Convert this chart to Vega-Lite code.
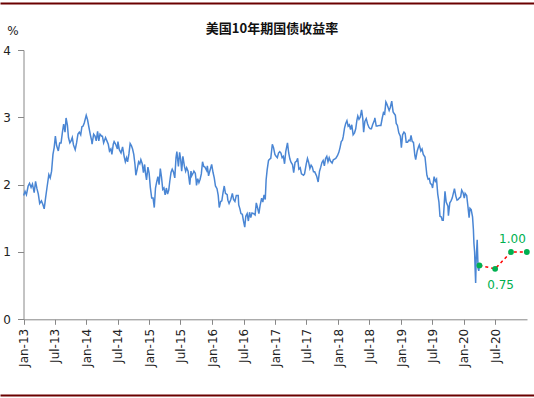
{
  "$schema": "https://vega.github.io/schema/vega-lite/v6.json",
  "autosize": "none",
  "width": 534,
  "height": 392,
  "padding": {"left": 0, "right": 0, "top": 3, "bottom": 3},
  "background": "white",
  "config": {
    "view": {"stroke": null},
    "axis": {"labelFont": "DejaVu Sans", "labelFontSize": 12, "labelColor": "#222", "domainColor": "#888", "tickColor": "#888", "grid": false}
  },
  "title": {"text": "美国10年期国债收益率", "font": "Noto Sans CJK SC", "fontSize": 13, "fontWeight": "bold", "color": "#111", "anchor": "middle", "offset": -39, "baseline": "middle", "dx": 5},
  "datasets": {
    "hist": [
      {"d":"2013-01-02","v":1.84},{"d":"2013-01-10","v":1.90},{"d":"2013-01-18","v":1.85},{"d":"2013-01-28","v":1.98},
      {"d":"2013-02-05","v":2.02},{"d":"2013-02-14","v":1.96},{"d":"2013-02-22","v":2.01},
      {"d":"2013-03-04","v":1.88},{"d":"2013-03-12","v":2.05},{"d":"2013-03-20","v":1.94},{"d":"2013-03-28","v":1.86},
      {"d":"2013-04-05","v":1.72},{"d":"2013-04-15","v":1.76},{"d":"2013-04-24","v":1.70},
      {"d":"2013-05-01","v":1.64},{"d":"2013-05-09","v":1.80},{"d":"2013-05-17","v":1.95},{"d":"2013-05-28","v":2.15},
      {"d":"2013-06-05","v":2.10},{"d":"2013-06-13","v":2.20},{"d":"2013-06-21","v":2.45},{"d":"2013-06-28","v":2.55},
      {"d":"2013-07-05","v":2.72},{"d":"2013-07-12","v":2.58},{"d":"2013-07-22","v":2.50},{"d":"2013-07-30","v":2.62},
      {"d":"2013-08-07","v":2.62},{"d":"2013-08-15","v":2.78},{"d":"2013-08-22","v":2.90},{"d":"2013-08-30","v":2.78},
      {"d":"2013-09-05","v":2.99},{"d":"2013-09-13","v":2.88},{"d":"2013-09-19","v":2.70},{"d":"2013-09-27","v":2.62},
      {"d":"2013-10-04","v":2.65},{"d":"2013-10-11","v":2.70},{"d":"2013-10-18","v":2.59},{"d":"2013-10-28","v":2.52},
      {"d":"2013-11-05","v":2.62},{"d":"2013-11-13","v":2.75},{"d":"2013-11-21","v":2.78},{"d":"2013-11-29","v":2.74},
      {"d":"2013-12-06","v":2.86},{"d":"2013-12-13","v":2.87},{"d":"2013-12-20","v":2.92},{"d":"2013-12-31","v":3.03},
      {"d":"2014-01-08","v":2.96},{"d":"2014-01-15","v":2.86},{"d":"2014-01-24","v":2.74},{"d":"2014-01-31","v":2.66},
      {"d":"2014-02-03","v":2.60},{"d":"2014-02-12","v":2.75},{"d":"2014-02-20","v":2.72},{"d":"2014-02-27","v":2.65},
      {"d":"2014-03-07","v":2.79},{"d":"2014-03-14","v":2.65},{"d":"2014-03-21","v":2.75},{"d":"2014-03-31","v":2.72},
      {"d":"2014-04-04","v":2.72},{"d":"2014-04-11","v":2.62},{"d":"2014-04-22","v":2.70},{"d":"2014-04-30","v":2.65},
      {"d":"2014-05-08","v":2.60},{"d":"2014-05-15","v":2.50},{"d":"2014-05-23","v":2.53},{"d":"2014-05-29","v":2.45},
      {"d":"2014-06-06","v":2.60},{"d":"2014-06-11","v":2.64},{"d":"2014-06-20","v":2.60},{"d":"2014-06-30","v":2.53},
      {"d":"2014-07-03","v":2.64},{"d":"2014-07-11","v":2.52},{"d":"2014-07-21","v":2.47},{"d":"2014-07-30","v":2.56},
      {"d":"2014-08-08","v":2.42},{"d":"2014-08-15","v":2.34},{"d":"2014-08-22","v":2.40},{"d":"2014-08-28","v":2.34},
      {"d":"2014-09-05","v":2.46},{"d":"2014-09-12","v":2.61},{"d":"2014-09-19","v":2.58},{"d":"2014-09-26","v":2.53},
      {"d":"2014-10-03","v":2.45},{"d":"2014-10-10","v":2.30},{"d":"2014-10-15","v":2.14},{"d":"2014-10-22","v":2.22},{"d":"2014-10-31","v":2.34},
      {"d":"2014-11-07","v":2.31},{"d":"2014-11-13","v":2.37},{"d":"2014-11-21","v":2.31},{"d":"2014-11-28","v":2.18},
      {"d":"2014-12-05","v":2.30},{"d":"2014-12-10","v":2.17},{"d":"2014-12-16","v":2.07},{"d":"2014-12-24","v":2.26},{"d":"2014-12-31","v":2.17},
      {"d":"2015-01-07","v":1.96},{"d":"2015-01-15","v":1.80},{"d":"2015-01-23","v":1.80},{"d":"2015-01-30","v":1.66},
      {"d":"2015-02-06","v":1.95},{"d":"2015-02-13","v":2.04},{"d":"2015-02-20","v":2.12},{"d":"2015-02-27","v":2.00},
      {"d":"2015-03-06","v":2.24},{"d":"2015-03-13","v":2.11},{"d":"2015-03-20","v":1.93},{"d":"2015-03-27","v":1.95},
      {"d":"2015-04-03","v":1.85},{"d":"2015-04-10","v":1.95},{"d":"2015-04-17","v":1.86},{"d":"2015-04-24","v":1.92},{"d":"2015-04-30","v":2.05},
      {"d":"2015-05-07","v":2.18},{"d":"2015-05-14","v":2.23},{"d":"2015-05-21","v":2.19},{"d":"2015-05-29","v":2.10},
      {"d":"2015-06-05","v":2.40},{"d":"2015-06-10","v":2.49},{"d":"2015-06-19","v":2.27},{"d":"2015-06-26","v":2.48},
      {"d":"2015-07-02","v":2.38},{"d":"2015-07-08","v":2.20},{"d":"2015-07-15","v":2.42},{"d":"2015-07-24","v":2.27},{"d":"2015-07-31","v":2.20},
      {"d":"2015-08-06","v":2.25},{"d":"2015-08-14","v":2.20},{"d":"2015-08-24","v":2.00},{"d":"2015-08-31","v":2.20},
      {"d":"2015-09-04","v":2.13},{"d":"2015-09-14","v":2.18},{"d":"2015-09-17","v":2.20},{"d":"2015-09-25","v":2.17},{"d":"2015-09-30","v":2.06},
      {"d":"2015-10-02","v":1.99},{"d":"2015-10-09","v":2.09},{"d":"2015-10-16","v":2.03},{"d":"2015-10-23","v":2.08},{"d":"2015-10-30","v":2.16},
      {"d":"2015-11-06","v":2.34},{"d":"2015-11-13","v":2.27},{"d":"2015-11-20","v":2.26},{"d":"2015-11-30","v":2.21},
      {"d":"2015-12-04","v":2.28},{"d":"2015-12-11","v":2.13},{"d":"2015-12-18","v":2.20},{"d":"2015-12-29","v":2.30},
      {"d":"2016-01-06","v":2.18},{"d":"2016-01-13","v":2.10},{"d":"2016-01-20","v":1.98},{"d":"2016-01-29","v":1.94},
      {"d":"2016-02-05","v":1.84},{"d":"2016-02-11","v":1.66},{"d":"2016-02-19","v":1.75},{"d":"2016-02-26","v":1.76},
      {"d":"2016-03-04","v":1.88},{"d":"2016-03-11","v":1.98},{"d":"2016-03-18","v":1.87},{"d":"2016-03-28","v":1.85},
      {"d":"2016-04-01","v":1.77},{"d":"2016-04-08","v":1.72},{"d":"2016-04-18","v":1.78},{"d":"2016-04-27","v":1.87},
      {"d":"2016-05-04","v":1.78},{"d":"2016-05-12","v":1.75},{"d":"2016-05-20","v":1.84},{"d":"2016-05-31","v":1.84},
      {"d":"2016-06-03","v":1.70},{"d":"2016-06-10","v":1.64},{"d":"2016-06-16","v":1.57},{"d":"2016-06-24","v":1.56},{"d":"2016-06-30","v":1.47},
      {"d":"2016-07-08","v":1.37},{"d":"2016-07-14","v":1.53},{"d":"2016-07-22","v":1.57},{"d":"2016-07-29","v":1.46},
      {"d":"2016-08-05","v":1.59},{"d":"2016-08-12","v":1.51},{"d":"2016-08-19","v":1.58},{"d":"2016-08-29","v":1.57},
      {"d":"2016-09-06","v":1.55},{"d":"2016-09-13","v":1.73},{"d":"2016-09-21","v":1.65},{"d":"2016-09-28","v":1.57},
      {"d":"2016-10-05","v":1.69},{"d":"2016-10-14","v":1.80},{"d":"2016-10-21","v":1.74},{"d":"2016-10-28","v":1.85},
      {"d":"2016-11-04","v":1.78},{"d":"2016-11-09","v":2.07},{"d":"2016-11-15","v":2.22},{"d":"2016-11-23","v":2.36},{"d":"2016-11-30","v":2.38},
      {"d":"2016-12-06","v":2.39},{"d":"2016-12-15","v":2.60},{"d":"2016-12-22","v":2.55},{"d":"2016-12-30","v":2.45},
      {"d":"2017-01-06","v":2.42},{"d":"2017-01-13","v":2.40},{"d":"2017-01-20","v":2.47},{"d":"2017-01-27","v":2.49},
      {"d":"2017-02-03","v":2.47},{"d":"2017-02-10","v":2.40},{"d":"2017-02-17","v":2.42},{"d":"2017-02-24","v":2.31},
      {"d":"2017-03-03","v":2.49},{"d":"2017-03-13","v":2.62},{"d":"2017-03-20","v":2.47},{"d":"2017-03-27","v":2.38},
      {"d":"2017-04-03","v":2.33},{"d":"2017-04-11","v":2.30},{"d":"2017-04-18","v":2.18},{"d":"2017-04-26","v":2.33},
      {"d":"2017-05-05","v":2.35},{"d":"2017-05-11","v":2.39},{"d":"2017-05-18","v":2.23},{"d":"2017-05-26","v":2.25},
      {"d":"2017-06-02","v":2.16},{"d":"2017-06-14","v":2.14},{"d":"2017-06-20","v":2.16},{"d":"2017-06-30","v":2.31},
      {"d":"2017-07-07","v":2.39},{"d":"2017-07-14","v":2.33},{"d":"2017-07-21","v":2.24},{"d":"2017-07-28","v":2.29},
      {"d":"2017-08-04","v":2.26},{"d":"2017-08-11","v":2.19},{"d":"2017-08-18","v":2.19},{"d":"2017-08-29","v":2.13},
      {"d":"2017-09-07","v":2.04},{"d":"2017-09-15","v":2.20},{"d":"2017-09-22","v":2.26},{"d":"2017-09-29","v":2.33},
      {"d":"2017-10-06","v":2.36},{"d":"2017-10-13","v":2.28},{"d":"2017-10-20","v":2.39},{"d":"2017-10-27","v":2.42},
      {"d":"2017-11-03","v":2.34},{"d":"2017-11-10","v":2.40},{"d":"2017-11-17","v":2.35},{"d":"2017-11-27","v":2.32},
      {"d":"2017-12-04","v":2.37},{"d":"2017-12-11","v":2.38},{"d":"2017-12-18","v":2.39},{"d":"2017-12-28","v":2.43},
      {"d":"2018-01-05","v":2.48},{"d":"2018-01-12","v":2.55},{"d":"2018-01-19","v":2.64},{"d":"2018-01-26","v":2.66},{"d":"2018-01-31","v":2.72},
      {"d":"2018-02-07","v":2.84},{"d":"2018-02-14","v":2.91},{"d":"2018-02-21","v":2.95},{"d":"2018-02-28","v":2.87},
      {"d":"2018-03-07","v":2.89},{"d":"2018-03-14","v":2.82},{"d":"2018-03-21","v":2.89},{"d":"2018-03-29","v":2.74},
      {"d":"2018-04-06","v":2.77},{"d":"2018-04-13","v":2.83},{"d":"2018-04-20","v":2.96},{"d":"2018-04-25","v":3.02},
      {"d":"2018-05-02","v":2.97},{"d":"2018-05-09","v":3.00},{"d":"2018-05-17","v":3.11},{"d":"2018-05-24","v":2.98},{"d":"2018-05-29","v":2.78},
      {"d":"2018-06-05","v":2.94},{"d":"2018-06-13","v":2.98},{"d":"2018-06-21","v":2.90},{"d":"2018-06-29","v":2.85},
      {"d":"2018-07-06","v":2.83},{"d":"2018-07-13","v":2.83},{"d":"2018-07-20","v":2.89},{"d":"2018-07-31","v":2.96},
      {"d":"2018-08-02","v":2.99},{"d":"2018-08-10","v":2.87},{"d":"2018-08-17","v":2.87},{"d":"2018-08-28","v":2.88},
      {"d":"2018-09-06","v":2.88},{"d":"2018-09-14","v":2.99},{"d":"2018-09-21","v":3.07},{"d":"2018-09-28","v":3.05},
      {"d":"2018-10-05","v":3.23},{"d":"2018-10-09","v":3.21},{"d":"2018-10-16","v":3.16},{"d":"2018-10-24","v":3.10},{"d":"2018-10-31","v":3.15},
      {"d":"2018-11-08","v":3.24},{"d":"2018-11-16","v":3.08},{"d":"2018-11-21","v":3.06},{"d":"2018-11-29","v":3.03},
      {"d":"2018-12-04","v":2.91},{"d":"2018-12-11","v":2.88},{"d":"2018-12-19","v":2.77},{"d":"2018-12-28","v":2.72},
      {"d":"2019-01-03","v":2.55},{"d":"2019-01-10","v":2.74},{"d":"2019-01-18","v":2.78},{"d":"2019-01-25","v":2.76},{"d":"2019-01-31","v":2.63},
      {"d":"2019-02-08","v":2.63},{"d":"2019-02-15","v":2.66},{"d":"2019-02-22","v":2.65},{"d":"2019-02-28","v":2.73},
      {"d":"2019-03-07","v":2.64},{"d":"2019-03-14","v":2.63},{"d":"2019-03-22","v":2.44},{"d":"2019-03-27","v":2.37},
      {"d":"2019-04-05","v":2.50},{"d":"2019-04-12","v":2.56},{"d":"2019-04-17","v":2.59},{"d":"2019-04-26","v":2.50},
      {"d":"2019-05-03","v":2.53},{"d":"2019-05-10","v":2.45},{"d":"2019-05-20","v":2.41},{"d":"2019-05-31","v":2.14},
      {"d":"2019-06-07","v":2.08},{"d":"2019-06-14","v":2.09},{"d":"2019-06-20","v":2.02},{"d":"2019-06-28","v":2.00},
      {"d":"2019-07-03","v":1.95},{"d":"2019-07-12","v":2.12},{"d":"2019-07-19","v":2.05},{"d":"2019-07-26","v":2.08},
      {"d":"2019-08-02","v":1.86},{"d":"2019-08-09","v":1.74},{"d":"2019-08-15","v":1.53},{"d":"2019-08-23","v":1.52},{"d":"2019-08-28","v":1.47},
      {"d":"2019-09-03","v":1.47},{"d":"2019-09-13","v":1.90},{"d":"2019-09-20","v":1.74},{"d":"2019-09-30","v":1.68},
      {"d":"2019-10-03","v":1.54},{"d":"2019-10-11","v":1.73},{"d":"2019-10-18","v":1.76},{"d":"2019-10-25","v":1.80},
      {"d":"2019-11-07","v":1.94},{"d":"2019-11-15","v":1.83},{"d":"2019-11-22","v":1.77},{"d":"2019-11-29","v":1.78},
      {"d":"2019-12-05","v":1.80},{"d":"2019-12-13","v":1.82},{"d":"2019-12-19","v":1.92},{"d":"2019-12-27","v":1.88},
      {"d":"2020-01-03","v":1.80},{"d":"2020-01-08","v":1.87},{"d":"2020-01-17","v":1.84},{"d":"2020-01-24","v":1.68},{"d":"2020-01-31","v":1.51},
      {"d":"2020-02-05","v":1.65},{"d":"2020-02-12","v":1.63},{"d":"2020-02-20","v":1.52},{"d":"2020-02-25","v":1.33},{"d":"2020-02-28","v":1.13},
      {"d":"2020-03-03","v":1.00},{"d":"2020-03-06","v":0.74},{"d":"2020-03-09","v":0.54},{"d":"2020-03-12","v":0.88},{"d":"2020-03-18","v":1.18},
      {"d":"2020-03-23","v":0.76},{"d":"2020-03-27","v":0.72},{"d":"2020-03-31","v":0.80}
    ],
    "fc": [
      {"d":"2020-03-31","v":0.80,"lab":""},
      {"d":"2020-06-30","v":0.75,"lab":"0.75"},
      {"d":"2020-09-30","v":1.00,"lab":"1.00"},
      {"d":"2020-12-31","v":1.00,"lab":""}
    ]
  },
  "resolve": {"scale": {"x": "independent"}, "axis": {"x": "independent"}},
  "layer": [
    {
      "encoding": {
        "x": {
          "field": "d", "type": "temporal", "title": null,
          "scale": {"domain": [{"year": 2013, "month": 1, "date": 1}, {"year": 2021, "month": 1, "date": 1}], "range": [23.5, 527], "nice": false},
          "axis": {
            "orient": "bottom", "offset": -75.7, "labelAngle": 270, "format": "%b-%y", "tickSize": 5, "labelPadding": 4,
            "values": [
              {"year":2013,"month":1,"date":1},{"year":2013,"month":7,"date":1},
              {"year":2014,"month":1,"date":1},{"year":2014,"month":7,"date":1},
              {"year":2015,"month":1,"date":1},{"year":2015,"month":7,"date":1},
              {"year":2016,"month":1,"date":1},{"year":2016,"month":7,"date":1},
              {"year":2017,"month":1,"date":1},{"year":2017,"month":7,"date":1},
              {"year":2018,"month":1,"date":1},{"year":2018,"month":7,"date":1},
              {"year":2019,"month":1,"date":1},{"year":2019,"month":7,"date":1},
              {"year":2020,"month":1,"date":1},{"year":2020,"month":7,"date":1}
            ]
          }
        },
        "y": {
          "field": "v", "type": "quantitative",
          "scale": {"domain": [0, 4], "range": [316.3, 47], "nice": false, "zero": false},
          "axis": {
            "offset": -23.5, "values": [0, 1, 2, 3, 4], "tickSize": 6, "labelPadding": 7,
            "title": "%", "titleAngle": 0, "titleX": -11, "titleY": 27, "titleAlign": "center", "titleBaseline": "middle",
            "titleFont": "DejaVu Sans", "titleFontSize": 12, "titleFontWeight": "normal", "titleColor": "#222"
          }
        }
      },
      "layer": [
        {"data": {"name": "hist"}, "mark": {"type": "line", "color": "#4A86D4", "strokeWidth": 1.5}},
        {"data": {"name": "fc"}, "mark": {"type": "line", "color": "#FF0000", "strokeWidth": 1.5, "strokeDash": [3, 3]}},
        {"data": {"name": "fc"}, "mark": {"type": "point", "filled": true, "color": "#00B050", "opacity": 1, "size": 34}},
        {"data": {"name": "fc"}, "transform": [{"filter": "datum.lab == '1.00'"}],
         "mark": {"type": "text", "color": "#00B050", "font": "DejaVu Sans", "fontSize": 12, "dy": -13, "dx": 1.5},
         "encoding": {"text": {"field": "lab"}}},
        {"data": {"name": "fc"}, "transform": [{"filter": "datum.lab == '0.75'"}],
         "mark": {"type": "text", "color": "#00B050", "font": "DejaVu Sans", "fontSize": 12, "dy": 16, "dx": 5.5},
         "encoding": {"text": {"field": "lab"}}}
      ]
    },
    {
      "data": {"name": "fc"},
      "mark": {"type": "point", "opacity": 0},
      "encoding": {
        "x": {"field": "d", "type": "temporal", "scale": {"nice": false},
              "axis": {"orient": "top", "offset": 0, "title": null, "labels": false, "ticks": false, "grid": false, "domainColor": "#6B0000", "domainWidth": 2}}
      }
    },
    {
      "data": {"name": "fc"},
      "mark": {"type": "point", "opacity": 0},
      "encoding": {
        "x": {"field": "d", "type": "temporal", "scale": {"nice": false},
              "axis": {"orient": "bottom", "offset": 0, "title": null, "labels": false, "ticks": false, "grid": false, "domainColor": "#6B0000", "domainWidth": 2}}
      }
    }
  ]
}
